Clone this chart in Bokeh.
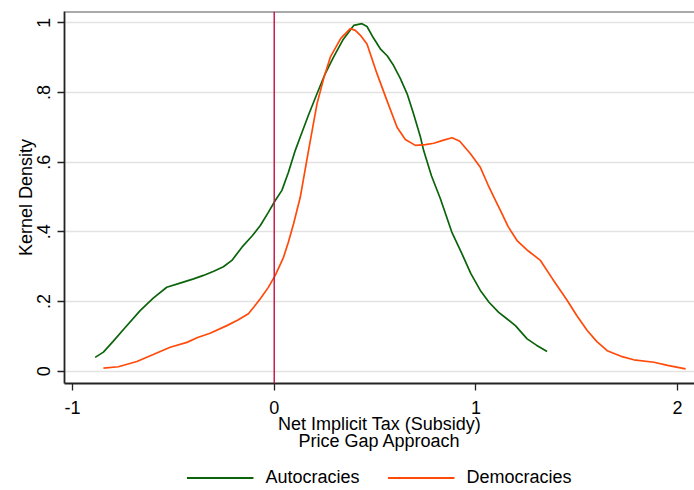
from bokeh.plotting import figure
from bokeh.layouts import column
from bokeh.models import Range1d, FixedTicker, Span, Legend, LegendItem
from bokeh.embed import file_html
from bokeh.resources import INLINE

# ---- data ----
auto_x = [-0.888, -0.847, -0.80, -0.74, -0.665, -0.60, -0.533, -0.467, -0.40, -0.351,
          -0.30, -0.252, -0.210, -0.160, -0.11, -0.069, -0.03, 0.005, 0.038, 0.07,
          0.104, 0.129, 0.17, 0.212, 0.25, 0.294, 0.34, 0.394, 0.435, 0.46,
          0.49, 0.526, 0.56, 0.592, 0.625, 0.659, 0.69, 0.725, 0.741, 0.78,
          0.824, 0.88, 0.931, 0.975, 1.022, 1.065, 1.113, 1.155, 1.196, 1.254,
          1.30, 1.353]
auto_y = [0.040, 0.055, 0.085, 0.125, 0.174, 0.210, 0.241, 0.253, 0.265, 0.275,
          0.287, 0.300, 0.318, 0.356, 0.388, 0.418, 0.455, 0.490, 0.519, 0.570,
          0.633, 0.672, 0.735, 0.796, 0.850, 0.901, 0.950, 0.992, 0.997, 0.989,
          0.958, 0.925, 0.905, 0.877, 0.840, 0.796, 0.740, 0.672, 0.633, 0.560,
          0.495, 0.400, 0.337, 0.280, 0.232, 0.198, 0.169, 0.150, 0.131, 0.093,
          0.075, 0.057]

demo_x = [-0.847, -0.773, -0.681, -0.60, -0.516, -0.433, -0.38, -0.318, -0.235, -0.18,
          -0.128, -0.10, -0.069, -0.03, 0.005, 0.046, 0.070, 0.096, 0.129, 0.170,
          0.212, 0.245, 0.278, 0.33, 0.377, 0.402, 0.430, 0.460, 0.510, 0.56,
          0.609, 0.650, 0.700, 0.750, 0.791, 0.840, 0.882, 0.920, 0.973, 1.022,
          1.06, 1.097, 1.122, 1.16, 1.204, 1.26, 1.320, 1.38, 1.453, 1.50,
          1.552, 1.60, 1.651, 1.72, 1.783, 1.883, 1.95, 2.040]
demo_y = [0.009, 0.013, 0.028, 0.048, 0.069, 0.083, 0.097, 0.109, 0.131, 0.147,
          0.165, 0.185, 0.208, 0.240, 0.275, 0.327, 0.370, 0.423, 0.499, 0.633,
          0.767, 0.840, 0.901, 0.955, 0.983, 0.978, 0.962, 0.939, 0.853, 0.775,
          0.700, 0.665, 0.648, 0.650, 0.654, 0.663, 0.670, 0.660, 0.624, 0.585,
          0.535, 0.490, 0.461, 0.415, 0.375, 0.345, 0.318, 0.265, 0.203, 0.160,
          0.117, 0.085, 0.059, 0.043, 0.033, 0.026, 0.017, 0.007]

x_ticks = [-1, 0, 1, 2]
x_tick_labels = ["-1", "0", "1", "2"]
y_ticks = [0, 0.2, 0.4, 0.6, 0.8, 1.0]
y_tick_labels = ["0", ".2", ".4", ".6", ".8", "1"]
ref_x = 0
series_names = ["Autocracies", "Democracies"]
series_colors = ["#0b640b", "#ff4a0a"]
x_title = "Net Implicit Tax (Subsidy)\nPrice Gap Approach"
y_title = "Kernel Density"

FONT = "Liberation Sans"
FS = "18px"

p = figure(width=694, height=464, output_backend="svg", toolbar_location=None,
           x_range=Range1d(-1.04, 2.084), y_range=Range1d(-0.035, 1.032),
           min_border_left=64, min_border_right=0, min_border_top=11, min_border_bottom=81)
p.background_fill_color = "white"
p.border_fill_color = "white"
p.outline_line_color = None

# grid
p.xgrid.grid_line_color = None
p.ygrid.grid_line_color = "#e3e3e3"
p.ygrid.grid_line_width = 1.5

# axes
for ax in (p.xaxis[0], p.yaxis[0]):
    ax.axis_line_color = "#222222"
    ax.axis_line_width = 1.8
    ax.major_tick_line_color = "#222222"
    ax.major_tick_line_width = 1.3
    ax.major_tick_out = 7
    ax.major_tick_in = 0
    ax.minor_tick_line_color = None
    ax.major_label_text_font = FONT
    ax.major_label_text_font_size = FS
    ax.major_label_text_color = "black"
    ax.axis_label_text_font = FONT
    ax.axis_label_text_font_size = FS
    ax.axis_label_text_font_style = "normal"
    ax.axis_label_text_color = "black"

p.xaxis.ticker = FixedTicker(ticks=x_ticks)
p.xaxis.major_label_overrides = dict(zip(x_ticks, x_tick_labels))
p.yaxis.ticker = FixedTicker(ticks=y_ticks)
p.yaxis.major_label_overrides = dict(zip(y_ticks, y_tick_labels))
p.yaxis.major_label_orientation = "vertical"
p.xaxis.axis_label = x_title
p.yaxis.axis_label = y_title
p.xaxis.major_label_standoff = 10
p.xaxis.axis_label_standoff = -3
p.xaxis.axis_label_text_line_height = 0.85
p.yaxis.major_label_standoff = 7
p.yaxis.axis_label_standoff = -1

# top frame line
p.add_layout(Span(location=1.032, dimension="width", line_color="#555555", line_width=2))
# reference line at 0
p.add_layout(Span(location=ref_x, dimension="height", line_color="#c41e4f", line_width=1.5))

p.line(auto_x, auto_y, line_color=series_colors[0], line_width=1.7)
p.line(demo_x, demo_y, line_color=series_colors[1], line_width=1.7)

# legend strip below the chart: same series, ranges chosen so only the key shows
pl = figure(width=694, height=26, output_backend="svg", toolbar_location=None,
            x_range=Range1d(10, 11), y_range=Range1d(10, 11),
            min_border_left=64, min_border_right=0, min_border_top=0, min_border_bottom=0)
pl.axis.visible = False
pl.grid.visible = False
pl.outline_line_color = None
pl.background_fill_color = "white"
pl.border_fill_color = "white"
k1 = pl.line(auto_x, auto_y, line_color=series_colors[0], line_width=2.2)
k2 = pl.line(demo_x, demo_y, line_color=series_colors[1], line_width=2.2)
legend = Legend(items=[LegendItem(label=series_names[0], renderers=[k1]),
                       LegendItem(label=series_names[1], renderers=[k2])],
                orientation="horizontal", location="center",
                label_text_font=FONT, label_text_font_size=FS, label_text_color="black",
                glyph_width=67, glyph_height=20, label_standoff=12, spacing=28,
                border_line_color=None, background_fill_alpha=0,
                padding=0, margin=0)
pl.add_layout(legend)

layout = column(p, pl, spacing=0)
open("out.html", "w").write(file_html(layout, INLINE))
